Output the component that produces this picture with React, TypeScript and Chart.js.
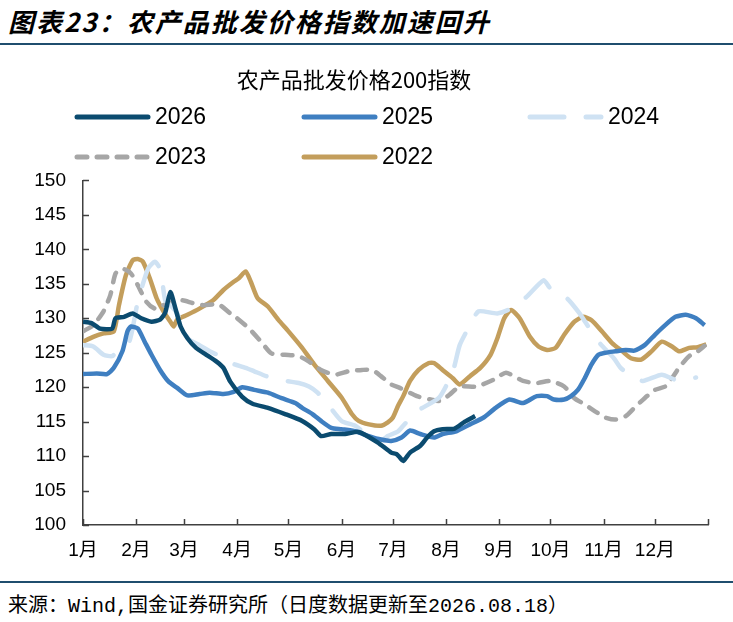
import { useEffect, useRef } from 'react'
import { Chart, registerables } from 'chart.js'

Chart.register(...registerables)

// x axis: day of year, ticks at the first day of each month
const monthStarts = [0, 31, 59, 90, 120, 151, 181, 212, 243, 273, 304, 334, 365]
const monthLabels = ['1月', '2月', '3月', '4月', '5月', '6月', '7月', '8月', '9月', '10月', '11月', '12月', '']

const days2026 = [0, 5, 10, 17, 19, 24, 29, 34, 40, 45, 48, 51, 54, 57, 61, 66, 72, 78, 82, 86, 93, 99, 108, 118, 128, 135, 139, 145, 153, 161, 172, 180, 183, 185, 187, 191, 197, 201, 205, 210, 217, 223, 229]
const vals2026 = [129.5, 129.3, 128.5, 128.5, 130, 130.2, 130.7, 130, 129.5, 129.8, 130.8, 133.8, 131.4, 128.8, 127.1, 125.7, 124.7, 123.7, 122.8, 120.8, 118.6, 117.6, 117, 116.1, 115.1, 113.9, 112.9, 113.2, 113.2, 113.5, 112, 110.5, 110.3, 109.8, 109.3, 110.5, 111.5, 112.7, 113.6, 113.9, 114, 115, 115.8]

const days2025 = [0, 8, 14, 18, 23, 26, 28, 32, 36, 40, 45, 50, 55, 61, 68, 74, 82, 88, 93, 100, 108, 116, 124, 128, 134, 139, 145, 151, 159, 167, 174, 180, 186, 191, 197, 205, 210, 218, 226, 234, 241, 249, 257, 265, 271, 275, 281, 285, 289, 293, 297, 301, 305, 311, 317, 322, 328, 334, 340, 346, 352, 358, 363]
const vals2025 = [121.9, 122, 121.9, 122.8, 125.2, 128.1, 128.8, 128.5, 126.6, 124.7, 122.5, 120.8, 119.9, 118.8, 119, 119.2, 119, 119.3, 120, 119.6, 119.2, 118.4, 117.7, 117, 116.1, 115.1, 114.1, 113.9, 113.6, 112.9, 112.4, 112.2, 112.7, 113.7, 113.2, 112.7, 113.2, 113.6, 114.6, 115.6, 117, 118.2, 117.7, 118.7, 118.7, 118.2, 118.2, 118.7, 119.6, 121.3, 123.3, 124.7, 125, 125.2, 125.4, 125.3, 126.1, 127.6, 129, 130.2, 130.5, 130, 129]

const days2024 = [0, 6, 12, 17, 20, 27, 32, 38, 42, 45, 46, 48, 51, 55, 59, 62, 68, 74, 80, 84, 95, 100, 107, 114, 126, 132, 137, 143, 151, 159, 163, 169, 175, 178, 184, 187, 195, 208, 216, 220, 226, 231, 242, 250, 259, 269, 273, 283, 290, 294, 301, 310, 314, 320, 327, 338, 348, 358]
const vals2024 = [126.1, 125.9, 124.7, 124.5, 125.2, 126.6, 132.4, 137.2, 138.2, 137.2, 136, 132.6, 131.9, 130.7, 128.1, 126.9, 126.1, 125.2, 124.5, 123.7, 122.8, 122.3, 121.6, 121.1, 120.6, 120.1, 119.2, 117.5, 115.1, 114.4, 113.6, 112.2, 112.4, 112.9, 113.6, 114.4, 116.5, 118.5, 122.3, 126.1, 129, 131, 130.7, 131.4, 133.1, 135.5, 134.3, 132.8, 130.7, 129.2, 126.6, 124.2, 122.8, 121.6, 120.9, 121.8, 120.9, 121.4]

const days2023 = [0, 6, 12, 16, 19, 23, 28, 32, 37, 42, 47, 53, 58, 64, 70, 76, 80, 86, 90, 97, 104, 110, 118, 126, 132, 139, 147, 155, 163, 169, 174, 180, 185, 195, 203, 209, 214, 220, 230, 240, 247, 257, 265, 273, 281, 287, 293, 299, 305, 311, 317, 322, 328, 334, 340, 344, 348, 354, 359, 363]
const vals2023 = [128.1, 129, 131, 133.4, 136.5, 137.2, 136.5, 134.8, 132.4, 131.4, 131.9, 132.4, 132.6, 132.2, 131.9, 132, 131.9, 130.7, 130, 128.5, 126.6, 124.9, 124.7, 124.5, 123.7, 122.5, 121.8, 122.3, 122.5, 122.5, 121.6, 120.4, 119.9, 118.7, 118.2, 118, 118.9, 120.1, 120.1, 121.1, 122.1, 120.9, 120.6, 120.9, 120.1, 118.4, 117.5, 116.5, 115.6, 115.3, 115.8, 117, 118.4, 119.6, 120.1, 121.3, 122.8, 124.5, 125.2, 126]

const days2022 = [0, 6, 12, 18, 21, 25, 29, 32, 35, 39, 43, 47, 51, 53, 55, 61, 68, 76, 82, 88, 91, 95, 98, 102, 108, 114, 120, 128, 135, 143, 151, 157, 161, 167, 174, 178, 181, 184, 187, 191, 196, 202, 205, 210, 216, 220, 226, 232, 238, 242, 246, 250, 255, 261, 266, 271, 276, 281, 287, 292, 297, 303, 309, 315, 320, 326, 332, 338, 344, 348, 354, 359, 364]
const vals2022 = [126.6, 127.3, 127.8, 128.1, 131.9, 136.2, 138.4, 138.6, 138.2, 135.8, 132.9, 131, 129.5, 128.8, 129.8, 130.5, 131.4, 132.6, 134.1, 135.3, 135.8, 136.8, 135.3, 132.9, 131.7, 129.8, 128.1, 125.7, 123.3, 120.9, 118.5, 116.1, 115.1, 114.6, 114.4, 114.9, 115.6, 117.3, 118.7, 120.9, 122.5, 123.5, 123.5, 122.5, 121.3, 120.4, 121.6, 122.8, 124.7, 127.1, 130, 131.2, 130, 127.3, 125.9, 125.4, 125.7, 127.6, 129.5, 130.2, 129.7, 128.1, 126.4, 125.2, 124.2, 124, 125.2, 126.6, 125.9, 125.2, 125.7, 125.8, 126.2]

const AXIS = '#404040'
const LATIN = '"Liberation Sans", Arial, "Noto Sans CJK SC", sans-serif'

const toPoints = (days: number[], vals: number[]) => days.map((d, i) => ({ x: d, y: vals[i] }))

// legend in a fixed 3-column grid, like the original
const gridLegend = {
  id: 'gridLegend',
  afterDraw(chart: any) {
    const ctx = chart.ctx
    const cols = [77, 304, 530]
    const rows = [67, 107]
    chart.data.datasets.forEach((ds: any, i: number) => {
      const x = cols[i % 3]
      const y = rows[Math.floor(i / 3)]
      ctx.save()
      ctx.strokeStyle = ds.borderColor
      ctx.lineWidth = 5
      ctx.lineCap = 'round'
      ctx.setLineDash(ds.borderDash || [])
      ctx.beginPath()
      ctx.moveTo(x, y)
      ctx.lineTo(x + 71, y)
      ctx.stroke()
      ctx.setLineDash([])
      ctx.fillStyle = '#000'
      ctx.font = '23px ' + LATIN
      ctx.textBaseline = 'middle'
      ctx.fillText(ds.label, x + 78, y + 1)
      ctx.restore()
    })
  },
}

// tick marks pointing into the plot
const innerTicks = {
  id: 'innerTicks',
  afterDraw(chart: any) {
    const { ctx, chartArea, scales } = chart
    ctx.save()
    ctx.strokeStyle = AXIS
    ctx.lineWidth = 1.5
    ctx.beginPath()
    scales.x.ticks.forEach((t: any) => {
      const px = Math.round(scales.x.getPixelForValue(t.value)) + 0.5
      ctx.moveTo(px, chartArea.bottom)
      ctx.lineTo(px, chartArea.bottom - 6)
    })
    scales.y.ticks.forEach((t: any) => {
      const py = Math.round(scales.y.getPixelForValue(t.value)) + 0.5
      ctx.moveTo(chartArea.left, py)
      ctx.lineTo(chartArea.left + 6, py)
    })
    ctx.stroke()
    ctx.restore()
  },
}

export default function App() {
  const canvasRef = useRef<HTMLCanvasElement>(null)
  const chartRef = useRef<Chart | null>(null)

  useEffect(() => {
    document.body.style.margin = '0'
    if (!canvasRef.current) return
    if (chartRef.current) chartRef.current.destroy()

    const line = (label: string, days: number[], vals: number[], color: string, dash: number[] = []) => ({
      label,
      data: toPoints(days, vals),
      borderColor: color,
      backgroundColor: color,
      borderWidth: 4.5,
      borderDash: dash,
      borderCapStyle: dash.length ? 'round' : 'butt',
      borderJoinStyle: 'round',
      pointRadius: 0,
      tension: 0.2,
      fill: false,
    })

    chartRef.current = new Chart(canvasRef.current, {
      type: 'line',
      data: {
        datasets: [
          line('2026', days2026, vals2026, '#0B4B6F'),
          line('2025', days2025, vals2025, '#3F7FC1'),
          line('2024', days2024, vals2024, '#CFE2F3', [34, 22]),
          line('2023', days2023, vals2023, '#A6A6A6', [10, 10]),
          line('2022', days2022, vals2022, '#C39E5C'),
        ] as any,
      },
      options: {
        animation: false,
        responsive: false,
        maintainAspectRatio: false,
        layout: { padding: { left: 0, right: 25, top: 0, bottom: 0 } },
        plugins: {
          legend: { display: false },
          tooltip: { enabled: false },
          title: {
            display: true,
            text: '农产品批发价格200指数',
            color: '#000',
            font: { family: '"Noto Sans CJK SC", sans-serif', size: 22, weight: 'normal' },
            padding: { top: 16, bottom: 88 },
          },
        },
        scales: {
          x: {
            type: 'linear',
            min: 0,
            max: 365,
            afterBuildTicks: (s: any) => {
              s.ticks = monthStarts.map((v) => ({ value: v }))
            },
            afterFit: (s: any) => {
              s.height = 55
            },
            ticks: {
              autoSkip: false,
              maxRotation: 0,
              padding: 14,
              color: '#000',
              font: { family: LATIN, size: 19 },
              callback: (_v: any, i: number) => monthLabels[i],
            },
            grid: { display: true, drawOnChartArea: false, drawTicks: false },
            border: { display: true, color: AXIS, width: 1.5 },
          },
          y: {
            min: 100,
            max: 150,
            afterFit: (s: any) => {
              s.width = 83
            },
            ticks: {
              stepSize: 5,
              padding: 17,
              color: '#000',
              font: { family: LATIN, size: 19 },
            },
            grid: { display: true, drawOnChartArea: false, drawTicks: false },
            border: { display: true, color: AXIS, width: 1.5 },
          },
        },
      },
      plugins: [gridLegend, innerTicks],
    } as any)

    return () => {
      if (chartRef.current) {
        chartRef.current.destroy()
        chartRef.current = null
      }
    }
  }, [])

  return (
    <div style={{ position: 'relative', width: 733, height: 622, background: '#fff', overflow: 'hidden' }}>
      <div
        style={{
          position: 'absolute',
          left: 8,
          top: 5,
          lineHeight: '32px',
          fontSize: 26,
          fontWeight: 'bold',
          fontStyle: 'italic',
          letterSpacing: 2,
          fontFamily: '"Noto Sans CJK SC", sans-serif',
          color: '#000',
          whiteSpace: 'nowrap',
        }}
      >
        图表23：农产品批发价格指数加速回升
      </div>
      <div style={{ position: 'absolute', left: 0, top: 43, width: 733, height: 2, background: '#1F4E6E' }} />
      <canvas ref={canvasRef} width={733} height={530} style={{ position: 'absolute', left: 0, top: 50 }} />
      <div style={{ position: 'absolute', left: 0, top: 581, width: 733, height: 1.5, background: '#1F4E6E' }} />
      <div
        style={{
          position: 'absolute',
          left: 8,
          top: 595,
          lineHeight: '24px',
          fontSize: 20,
          fontFamily: '"Liberation Mono", "Noto Sans CJK SC", monospace',
          color: '#000',
          whiteSpace: 'nowrap',
        }}
      >
        来源：Wind,国金证券研究所（日度数据更新至2026.08.18）
      </div>
    </div>
  )
}
